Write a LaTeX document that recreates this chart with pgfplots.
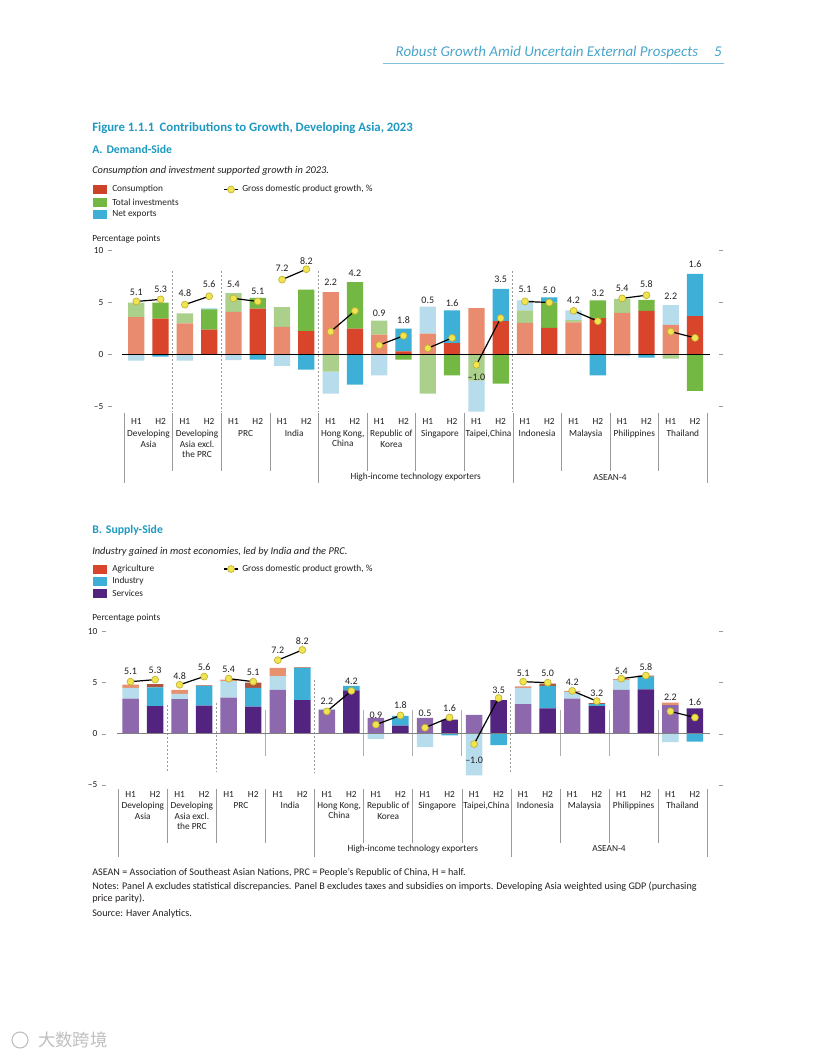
\documentclass[border=0pt]{standalone}
\usepackage{pgfplots}
\pgfplotsset{compat=1.18}
\usepackage{pgfplotstable}
\usepackage{fontspec}
\setmainfont{Carlito}
\newfontfamily\cjk{Noto Sans CJK SC}

\definecolor{txt}{HTML}{231F20}
\definecolor{teal}{HTML}{1E9AC2}
\definecolor{hdr}{HTML}{4AA5CA}
\definecolor{cA}{HTML}{E98B6E}
\definecolor{cB}{HTML}{D8452B}
\definecolor{iA}{HTML}{AAD08C}
\definecolor{iB}{HTML}{72B842}
\definecolor{nA}{HTML}{B7DDEC}
\definecolor{nB}{HTML}{3EB0D8}
\definecolor{aA}{HTML}{E8916E}
\definecolor{aB}{HTML}{B0553D}
\definecolor{sA}{HTML}{8E68AC}
\definecolor{sB}{HTML}{52247F}
\definecolor{gdpfill}{HTML}{F0E450}
\definecolor{gdpedge}{HTML}{C2B232}
\definecolor{sep}{HTML}{9A9A9A}

% Panel A: x, half (1=H1, 2=H2), consumption, total investments, net exports, label y, label
\pgfplotstableread{
x h c i n ly lab
0 1 3.60 1.40 -0.60 6.0 5.1
1 2 3.45 1.55 -0.20 6.3 5.3
2 1 3.00 0.95 -0.60 5.9 4.8
3 2 2.40 1.95 0.05 6.8 5.6
4 1 4.10 1.80 -0.55 6.7 5.4
5 2 4.40 1.05 -0.50 6.1 5.1
6 1 2.65 1.90 -1.10 8.3 7.2
7 2 2.25 4.00 -1.45 9.0 8.2
8 1 6.00 -1.65 -2.10 6.9 2.2
9 2 2.50 4.45 -2.90 7.8 4.2
10 1 1.90 1.35 -2.00 4.0 0.9
11 2 0.30 -0.50 2.20 3.3 1.8
12 1 2.00 -3.75 2.60 5.25 0.5
13 2 1.10 -2.00 3.15 4.95 1.6
14 1 4.45 -2.50 -3.00 -2.15 –1.0
15 2 3.20 -2.80 3.10 7.25 3.5
16 1 3.05 1.20 0.95 6.3 5.1
17 2 2.55 2.45 0.50 6.2 5.0
18 1 3.10 0.20 0.95 5.25 4.2
19 2 3.50 1.70 -2.00 5.9 3.2
20 1 4.00 1.35 -0.15 6.4 5.4
21 2 4.20 1.05 -0.30 6.8 5.8
22 1 2.85 -0.40 1.90 5.6 2.2
23 2 3.70 -3.50 4.05 8.7 1.6
}\tabA

% Panel B: x, half, services, industry, agriculture, label y, label
\pgfplotstableread{
x h s i a ly lab
0 1 3.45 1.05 0.30 6.08 5.1
1 2 2.70 1.85 0.30 6.24 5.3
2 1 3.40 0.50 0.40 5.69 4.8
3 2 2.75 1.95 0.05 6.47 5.6
4 1 3.55 1.60 0.15 6.34 5.4
5 2 2.65 1.85 0.50 5.98 5.1
6 1 4.30 1.35 0.80 8.13 7.2
7 2 3.30 3.15 0.05 9.11 8.2
8 1 2.35 0.10 0.00 3.15 2.2
9 2 4.25 0.45 0.00 5.17 4.2
10 1 1.55 -0.50 0.00 1.85 0.9
11 2 0.80 0.95 0.00 2.76 1.8
12 1 1.55 -1.30 0.00 2.01 0.5
13 2 1.40 -0.15 0.00 2.50 1.6
14 1 1.85 -4.05 0.00 -2.62 –1.0
15 2 3.30 -1.10 0.00 4.29 3.5
16 1 2.90 1.60 0.15 5.92 5.1
17 2 2.50 2.20 0.20 5.92 5.0
18 1 3.45 0.65 0.10 5.00 4.2
19 2 2.70 0.20 0.10 3.97 3.2
20 1 4.30 0.95 0.10 6.15 5.4
21 2 4.35 1.25 0.10 6.57 5.8
22 1 2.80 -0.80 0.25 3.54 2.2
23 2 2.50 -0.75 0.00 3.05 1.6
}\tabB

% GDP growth, %, H1 and H2 of each economy
\pgfplotstableread{
x g
0 5.1
1 5.3
1.5 nan
2 4.8
3 5.6
3.5 nan
4 5.4
5 5.1
5.5 nan
6 7.2
7 8.2
7.5 nan
8 2.2
9 4.2
9.5 nan
10 0.9
11 1.8
11.5 nan
12 0.6
13 1.6
13.5 nan
14 -1.0
15 3.5
15.5 nan
16 5.1
17 5.0
17.5 nan
18 4.2
19 3.2
19.5 nan
20 5.4
21 5.7
21.5 nan
22 2.2
23 1.6
}\gdp

\newcommand\smallf{\fontsize{7}{7.9}\selectfont}
\newcommand\notef{\fontsize{7.6}{9}\selectfont}

\tikzset{
  hlab/.style={font=\smallf, text=txt, inner sep=0pt, anchor=center},
  catlab/.style={font=\smallf, text=txt, inner sep=0pt, anchor=north, align=center},
}

\pgfplotsset{
  common/.style={scale only axis, clip=false, xmin=-1, xmax=24, ymin=-5, ymax=10, anchor=south west},
  geoA/.style={common, at={(84pt,-304.875pt)}, width=455.5pt, height=117pt},
  geoB/.style={common, at={(79.5pt,-588.75pt)}, width=460.1pt, height=115.1pt},
  barax/.style={hide axis, ybar stacked, bar width=0.67},
  decor/.style={axis line style={draw=none}, xtick=\empty, ytick={-5,0,5,10},
    yticklabels={\textendash5,0,5,10}, tick align=outside, major tick length=3pt,
    tick style={sep, line width=0.4pt}, yticklabel style={font=\smallf, text=txt}},
  gdpline/.style={black, line width=0.9pt, mark=*, mark size=2.6pt,
    mark options={fill=gdpfill, draw=gdpedge, line width=0.5pt}, unbounded coords=jump},
  gdplab/.style={draw=none, mark=none, nodes near coords, point meta=explicit symbolic,
    every node near coord/.append style={anchor=center, font=\fontsize{7.5}{8}\selectfont, text=txt, inner sep=0pt}},
}

\newcommand\pbar[4]{\addplot[fill=#1, draw=none] table[x=x, y expr={ifthenelse(\thisrow{h}==#2, #3, 0)}]{#4};}

\begin{document}
\begin{tikzpicture}
\fill[white] (0,0) rectangle (612pt,-792pt);
\begin{scope}[x=0.75pt,y=-0.75pt]
  % header
  \node[anchor=base east, inner sep=0, text=hdr, font=\fontsize{11.2}{13}\selectfont\itshape] at (722,57) {Robust Growth Amid Uncertain External Prospects\hspace{12pt}5};
  \draw[hdr!70, line width=0.5pt] (383,63) -- (724,63);
  % titles panel A
  \node[anchor=base west, inner sep=0, text=teal, font=\fontsize{9.6}{11}\selectfont\bfseries] at (92,131) {Figure 1.1.1\hspace{4pt}Contributions to Growth, Developing Asia, 2023};
  \node[anchor=base west, inner sep=0, text=teal, font=\fontsize{8.8}{10}\selectfont\bfseries] at (92,153) {A.\hspace{3pt}Demand-Side};
  \node[anchor=base west, inner sep=0, text=txt, font=\fontsize{7.8}{9}\selectfont\itshape] at (92,173) {Consumption and investment supported growth in 2023.};
  % legend A
  \fill[cB!95!black] (93,185) rectangle (107,194);
  \fill[iB] (93,197.5) rectangle (107,206.5);
  \fill[nB] (93,210) rectangle (107,219);
  \node[anchor=west, inner sep=0, font=\smallf, text=txt] at (112,189.5) {Consumption};
  \node[anchor=west, inner sep=0, font=\smallf, text=txt] at (112,202) {Total investments};
  \node[anchor=west, inner sep=0, font=\smallf, text=txt] at (112,214.5) {Net exports};
  \draw[black, line width=0.9pt] (224,189.5) -- (238,189.5);
  \node[circle, fill=gdpfill, draw=gdpedge, line width=0.5pt, inner sep=0pt, minimum size=5.2pt] at (231,189.5) {};
  \node[anchor=west, inner sep=0, font=\smallf, text=txt] at (242,189.5) {Gross domestic product growth, \%};
  \node[anchor=base west, inner sep=0, font=\smallf, text=txt] at (92,241) {Percentage points};
  % titles panel B
  \node[anchor=base west, inner sep=0, text=teal, font=\fontsize{8.8}{10}\selectfont\bfseries] at (92,533) {B.\hspace{3pt}Supply-Side};
  \node[anchor=base west, inner sep=0, text=txt, font=\fontsize{7.8}{9}\selectfont\itshape] at (92,554) {Industry gained in most economies, led by India and the PRC.};
  % legend B
  \fill[cB] (93,565) rectangle (107,573.5);
  \fill[nB] (93,577) rectangle (107,585.5);
  \fill[sB] (93,589) rectangle (107,597.5);
  \node[anchor=west, inner sep=0, font=\smallf, text=txt] at (112,569) {Agriculture};
  \node[anchor=west, inner sep=0, font=\smallf, text=txt] at (112,581) {Industry};
  \node[anchor=west, inner sep=0, font=\smallf, text=txt] at (112,593) {Services};
  \draw[black, line width=0.9pt] (224,569) -- (238,569);
  \node[circle, fill=gdpfill, draw=gdpedge, line width=0.5pt, inner sep=0pt, minimum size=5.2pt] at (231,569) {};
  \node[anchor=west, inner sep=0, font=\smallf, text=txt] at (242,569) {Gross domestic product growth, \%};
  \node[anchor=base west, inner sep=0, font=\smallf, text=txt] at (92,620) {Percentage points};
  % notes
  \node[anchor=base west, inner sep=0, font=\notef, text=txt] at (92,875) {ASEAN = Association of Southeast Asian Nations, PRC = People’s Republic of China, H = half.};
  \node[anchor=base west, inner sep=0, font=\notef, text=txt] at (92,889) {Notes: Panel A excludes statistical discrepancies. Panel B excludes taxes and subsidies on imports. Developing Asia weighted using GDP (purchasing};
  \node[anchor=base west, inner sep=0, font=\notef, text=txt] at (92,901) {price parity).};
  \node[anchor=base west, inner sep=0, font=\notef, text=txt] at (92,916) {Source: Haver Analytics.};
  % watermark
  \node[anchor=west, inner sep=0, text=black!25, font=\cjk\fontsize{13}{13}\selectfont] at (38,1040) {大数跨境};
  \draw[black!25, line width=0.8pt] (20,1040) circle (8);
\end{scope}

% ---------------- Panel A ----------------
\begin{axis}[geoA, barax]
  \pbar{cA}{1}{min(\thisrow{c},0)}{\tabA}
  \pbar{cB}{2}{min(\thisrow{c},0)}{\tabA}
  \pbar{iA}{1}{min(\thisrow{i},0)}{\tabA}
  \pbar{iB}{2}{min(\thisrow{i},0)}{\tabA}
  \pbar{nA}{1}{min(\thisrow{n},0)}{\tabA}
  \pbar{nB}{2}{min(\thisrow{n},0)}{\tabA}
\end{axis}
\begin{axis}[geoA, barax]
  \pbar{cA}{1}{max(\thisrow{c},0)}{\tabA}
  \pbar{cB}{2}{max(\thisrow{c},0)}{\tabA}
  \pbar{iA}{1}{max(\thisrow{i},0)}{\tabA}
  \pbar{iB}{2}{max(\thisrow{i},0)}{\tabA}
  \pbar{nA}{1}{max(\thisrow{n},0)}{\tabA}
  \pbar{nB}{2}{max(\thisrow{n},0)}{\tabA}
\end{axis}
\begin{axis}[geoA, decor]
  \pgfplotsinvokeforeach{1.5,3.5,7.5,15.5}{
    \draw[sep, line width=0.6pt, dash pattern=on 1.5pt off 1.5pt] (axis cs:#1,8) -- (axis cs:#1,-5.5);
  }
  \draw[black, line width=0.8pt] (axis cs:-0.6,0) -- (axis cs:23.6,0);
  \addplot[gdpline] table[x=x, y=g]{\gdp};
  \addplot[gdplab] table[x=x, y=ly, meta=lab]{\tabA};
  % category area
  \pgfplotsinvokeforeach{1.5,3.5,5.5,9.5,11.5,13.5,17.5,19.5,21.5}{
    \draw[sep, line width=0.4pt] (axis cs:#1,-5.6) -- (axis cs:#1,-11.2);
  }
  \pgfplotsinvokeforeach{-0.5,7.5,15.5,23.5}{
    \draw[sep, line width=0.4pt] (axis cs:#1,-5.6) -- (axis cs:#1,-12.4);
  }
  \pgfplotsinvokeforeach{0,2,4,6,8,10,12,14,16,18,20,22}{
    \node[hlab] at (axis cs:#1,-6.4) {H1};
  }
  \pgfplotsinvokeforeach{1,3,5,7,9,11,13,15,17,19,21,23}{
    \node[hlab] at (axis cs:#1,-6.4) {H2};
  }
  \node[catlab] at (axis cs:0.5,-7.26) {Developing\\Asia};
  \node[catlab] at (axis cs:2.5,-7.26) {Developing\\Asia excl.\\the PRC};
  \node[catlab] at (axis cs:4.5,-7.26) {PRC};
  \node[catlab] at (axis cs:6.5,-7.26) {India};
  \node[catlab] at (axis cs:8.5,-7.26) {Hong Kong,\\China};
  \node[catlab] at (axis cs:10.5,-7.26) {Republic of\\Korea};
  \node[catlab] at (axis cs:12.5,-7.26) {Singapore};
  \node[catlab] at (axis cs:14.5,-7.26) {Taipei,China};
  \node[catlab] at (axis cs:16.5,-7.26) {Indonesia};
  \node[catlab] at (axis cs:18.5,-7.26) {Malaysia};
  \node[catlab] at (axis cs:20.5,-7.26) {Philippines};
  \node[catlab] at (axis cs:22.5,-7.26) {Thailand};
  \node[hlab] at (axis cs:11.5,-11.8) {High-income technology exporters};
  \node[hlab] at (axis cs:19.5,-11.8) {ASEAN-4};
\end{axis}

% ---------------- Panel B ----------------
\begin{axis}[geoB, barax]
  \pbar{sA}{1}{min(\thisrow{s},0)}{\tabB}
  \pbar{sB}{2}{min(\thisrow{s},0)}{\tabB}
  \pbar{nA}{1}{min(\thisrow{i},0)}{\tabB}
  \pbar{nB}{2}{min(\thisrow{i},0)}{\tabB}
  \pbar{aA}{1}{min(\thisrow{a},0)}{\tabB}
  \pbar{aB}{2}{min(\thisrow{a},0)}{\tabB}
\end{axis}
\begin{axis}[geoB, barax]
  \pbar{sA}{1}{max(\thisrow{s},0)}{\tabB}
  \pbar{sB}{2}{max(\thisrow{s},0)}{\tabB}
  \pbar{nA}{1}{max(\thisrow{i},0)}{\tabB}
  \pbar{nB}{2}{max(\thisrow{i},0)}{\tabB}
  \pbar{aA}{1}{max(\thisrow{a},0)}{\tabB}
  \pbar{aB}{2}{max(\thisrow{a},0)}{\tabB}
\end{axis}
\begin{axis}[geoB, decor]
  \draw[sep, line width=0.6pt, dash pattern=on 1.5pt off 1.5pt] (axis cs:1.5,2.8) -- (axis cs:1.5,-3.7);
  \draw[sep, line width=0.6pt, dash pattern=on 1.5pt off 1.5pt] (axis cs:3.5,3.0) -- (axis cs:3.5,-3.7);
  \draw[sep, line width=0.6pt, dash pattern=on 1.5pt off 1.5pt] (axis cs:7.5,5.3) -- (axis cs:7.5,-3.7);
  \draw[sep, line width=0.6pt, dash pattern=on 1.5pt off 1.5pt] (axis cs:15.5,3.9) -- (axis cs:15.5,-3.7);
  \pgfplotsinvokeforeach{5.5,9.5,11.5,13.5,17.5,19.5,21.5}{
    \draw[sep!80, line width=0.5pt] (axis cs:#1,2.35) -- (axis cs:#1,-2.15);
  }
  \draw[black!50, line width=0.8pt] (axis cs:-0.55,0) -- (axis cs:23.6,0);
  \addplot[gdpline] table[x=x, y=g]{\gdp};
  \addplot[gdplab] table[x=x, y=ly, meta=lab]{\tabB};
  \pgfplotsinvokeforeach{1.5,3.5,5.5,9.5,11.5,13.5,17.5,19.5,21.5}{
    \draw[sep, line width=0.4pt] (axis cs:#1,-5.38) -- (axis cs:#1,-10.66);
  }
  \pgfplotsinvokeforeach{-0.5,7.5,15.5,23.5}{
    \draw[sep, line width=0.4pt] (axis cs:#1,-5.38) -- (axis cs:#1,-12.03);
  }
  \pgfplotsinvokeforeach{0,2,4,6,8,10,12,14,16,18,20,22}{
    \node[hlab] at (axis cs:#1,-5.97) {H1};
  }
  \pgfplotsinvokeforeach{1,3,5,7,9,11,13,15,17,19,21,23}{
    \node[hlab] at (axis cs:#1,-5.97) {H2};
  }
  \node[catlab] at (axis cs:0.5,-6.65) {Developing\\Asia};
  \node[catlab] at (axis cs:2.5,-6.65) {Developing\\Asia excl.\\the PRC};
  \node[catlab] at (axis cs:4.5,-6.65) {PRC};
  \node[catlab] at (axis cs:6.5,-6.65) {India};
  \node[catlab] at (axis cs:8.5,-6.65) {Hong Kong,\\China};
  \node[catlab] at (axis cs:10.5,-6.65) {Republic of\\Korea};
  \node[catlab] at (axis cs:12.5,-6.65) {Singapore};
  \node[catlab] at (axis cs:14.5,-6.65) {Taipei,China};
  \node[catlab] at (axis cs:16.5,-6.65) {Indonesia};
  \node[catlab] at (axis cs:18.5,-6.65) {Malaysia};
  \node[catlab] at (axis cs:20.5,-6.65) {Philippines};
  \node[catlab] at (axis cs:22.5,-6.65) {Thailand};
  \node[hlab] at (axis cs:11.5,-11.25) {High-income technology exporters};
  \node[hlab] at (axis cs:19.5,-11.25) {ASEAN-4};
\end{axis}

\pgfresetboundingbox
\path[use as bounding box] (0,0) rectangle (612pt,-792pt);
\end{tikzpicture}
\end{document}
